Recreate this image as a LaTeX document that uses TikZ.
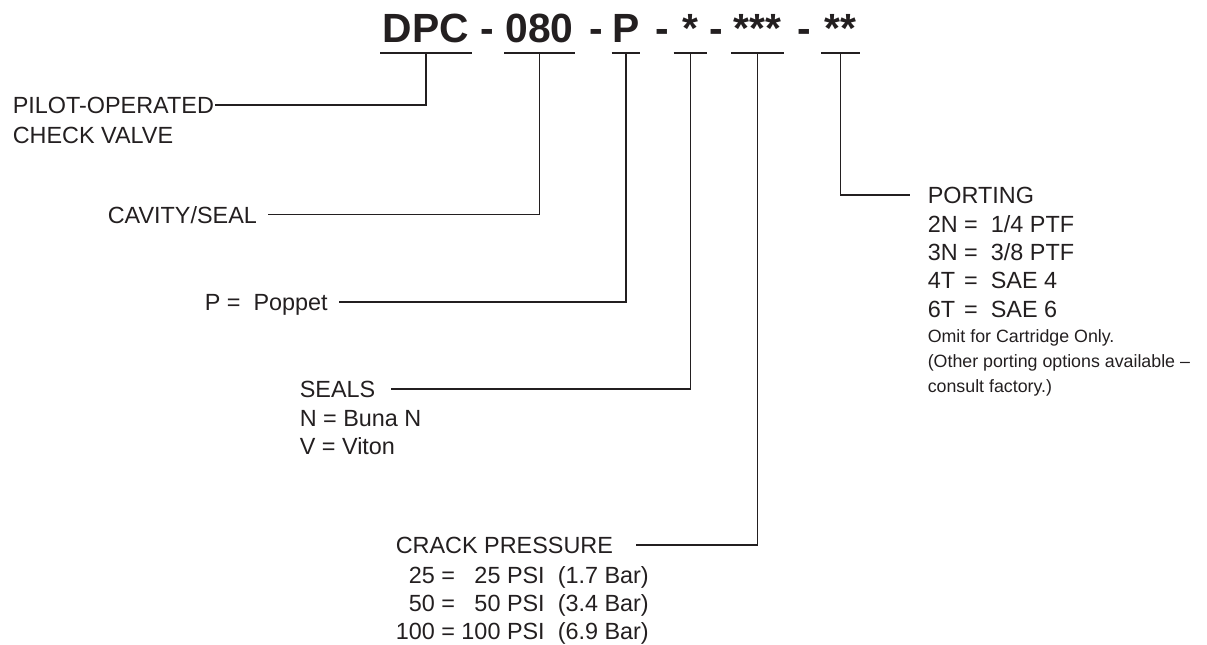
\documentclass[tikz,border=0pt]{standalone}
\usepackage{fontspec}
\setmainfont{Liberation Sans}
\definecolor{ink}{RGB}{35,31,32}

\begin{document}
\begin{tikzpicture}[x=0.5pt,y=-0.5pt,color=ink,line width=0.8pt,
    code/.style={anchor=base,inner xsep=0pt,inner ysep=5pt,text depth=0pt,font=\fontsize{20.4}{24}\selectfont\bfseries},
    lbl/.style={anchor=base west,inner sep=0pt,text depth=0pt,font=\fontsize{11.7}{14.2}\selectfont},
    opts/.style={anchor=base west,inner sep=0pt,font=\fontsize{11.7}{14.2}\selectfont},
    note/.style={anchor=base west,inner sep=0pt,font=\fontsize{8.9}{12.5}\selectfont}]
    \useasboundingbox (0,0) rectangle (1207,644);
    % model code
    \node[code,minimum width=45pt] (dpc) at (426,42) {DPC};
    \node[code,minimum width=34.5pt] (cav) at (539.5,42) {080};
    \node[code,minimum width=13pt] (pop) at (626,42) {P};
    \node[code,minimum width=16pt] (sl) at (690.5,42) {*};
    \node[code,minimum width=25.5pt] (cp) at (757.5,42) {***};
    \node[code,minimum width=18.5pt] (pt) at (840.5,42) {**};
    \foreach \x [count=\i] in {487.5,596,662,716.5,804}
        \node[code] (d\i) at (\x,42) {-};
    \foreach \n in {dpc,cav,pop,sl,cp,pt}
        \draw (\n.south west) -- (\n.south east);
    % labels
    \node[lbl] (pilot) at (12,113) {PILOT-OPERATED};
    \node[lbl] (pilotb) at (12,143) {CHECK VALVE};
    \node[lbl] (cavity) at (107,223) {CAVITY/SEAL};
    \node[lbl] (poppet) at (204,310) {P =\ \ Poppet};
    \node[lbl] (seals) at (299,397) {SEALS};
    \node[opts] (sealsopt) at (299,426) {\begin{tabular}[t]{@{}l@{}}
        N = Buna N\\V = Viton\end{tabular}};
    \node[lbl] (crack) at (395,553) {CRACK PRESSURE};
    \node[opts] (crackopt) at (395,583) {\begin{tabular}[t]{@{}l@{}}
        \phantom{1}25 = \phantom{1}25 PSI\ \ (1.7 Bar)\\
        \phantom{1}50 = \phantom{1}50 PSI\ \ (3.4 Bar)\\
        100 = 100 PSI\ \ (6.9 Bar)\end{tabular}};
    \node[lbl] (porting) at (927,203) {PORTING};
    \node[opts] (portopt) at (927,232) {\begin{tabular}[t]{@{}l@{\ =\ \ }l@{}}
        2N & 1/4 PTF\\3N & 3/8 PTF\\4T & SAE 4\\6T & SAE 6\end{tabular}};
    \node[note] (portnote) at (927,342) {\begin{tabular}[t]{@{}l@{}}
        Omit for Cartridge Only.\\
        (Other porting options available –\\consult factory.)\end{tabular}};
    % leaders
    \draw (dpc.south) |- (pilot.east);
    \draw[shorten >=5pt] (cav.south) |- (cavity.east);
    \draw[shorten >=5pt] (pop.south) |- (poppet.east);
    \draw[shorten >=7.5pt] (sl.south) |- (seals.east);
    \draw[shorten >=11pt] (cp.south) |- (crack.east);
    \draw[shorten >=8.5pt] (pt.south) |- (porting.west);
\end{tikzpicture}
\end{document}
